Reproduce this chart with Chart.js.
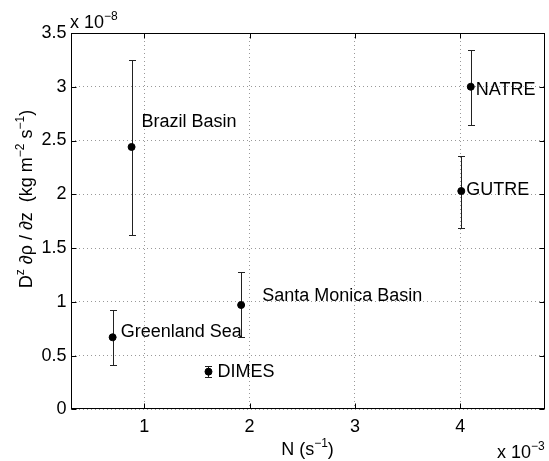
<!DOCTYPE html>
<html>
<head>
<meta charset="utf-8">
<script src="https://cdn.jsdelivr.net/npm/chart.js@4"></script>
<style>
  html, body { margin: 0; padding: 0; background: #fff; }
  canvas { display: block; }
</style>
</head>
<body>
<canvas id="chart" width="549" height="461"></canvas>
<script>
// data (N in units of 1e-3 s^-1, flux in units of 1e-8 kg m^-2 s^-1)
const sites = ['Brazil Basin', 'Greenland Sea', 'DIMES', 'Santa Monica Basin', 'NATRE', 'GUTRE'];
const nValues = [0.88, 0.70, 1.61, 1.92, 4.10, 4.01];
const fluxValues = [2.44, 0.67, 0.35, 0.97, 3.00, 2.03];
const fluxLow = [1.62, 0.41, 0.30, 0.67, 2.64, 1.69];
const fluxHigh = [3.25, 0.92, 0.40, 1.28, 3.34, 2.36];
const xTicks = [1, 2, 3, 4];
const yTicks = [0, 0.5, 1, 1.5, 2, 2.5, 3, 3.5];

// label offsets from each point, in pixels
const labelOffsets = [[10, -26], [8, -6], [9, -1], [21, -10], [5, 2], [5, -2]];

const FONT = '"Liberation Sans", Arial, Helvetica, sans-serif';

// draws text with superscript parts, e.g. [['D'], ['z', true]]
function drawRich(ctx, parts, x, y, align) {
    const base = 18, sup = 12;
    let total = 0;
    parts.forEach(p => {
        ctx.font = (p[1] ? sup : base) + 'px ' + FONT;
        total += ctx.measureText(p[0]).width;
    });
    let cx = align === 'center' ? x - total / 2 : x;
    ctx.textAlign = 'left';
    ctx.textBaseline = 'alphabetic';
    parts.forEach(p => {
        ctx.font = (p[1] ? sup : base) + 'px ' + FONT;
        ctx.fillText(p[0], cx, p[1] ? y - 8 : y);
        cx += ctx.measureText(p[0]).width;
    });
}

const extras = {
    id: 'extras',
    beforeDatasetsDraw(chart) {
        const ctx = chart.ctx;
        const xs = chart.scales.x, ys = chart.scales.y;
        ctx.save();
        ctx.strokeStyle = '#222';
        ctx.lineWidth = 1;
        nValues.forEach((n, i) => {
            const px = Math.round(xs.getPixelForValue(n)) + 0.5;
            const top = Math.round(ys.getPixelForValue(fluxHigh[i])) + 0.5;
            const bot = Math.round(ys.getPixelForValue(fluxLow[i])) + 0.5;
            ctx.beginPath();
            ctx.moveTo(px, top); ctx.lineTo(px, bot);
            ctx.moveTo(px - 3.5, top); ctx.lineTo(px + 3.5, top);
            ctx.moveTo(px - 3.5, bot); ctx.lineTo(px + 3.5, bot);
            ctx.stroke();
        });
        ctx.restore();
    },
    afterDatasetsDraw(chart) {
        const ctx = chart.ctx;
        const xs = chart.scales.x, ys = chart.scales.y;
        const a = chart.chartArea;
        ctx.save();
        ctx.fillStyle = '#000';
        ctx.font = '18px ' + FONT;
        ctx.textAlign = 'left';
        ctx.textBaseline = 'middle';
        sites.forEach((s, i) => {
            const px = xs.getPixelForValue(nValues[i]) + labelOffsets[i][0];
            const py = ys.getPixelForValue(fluxValues[i]) + labelOffsets[i][1];
            ctx.fillText(s, px, py + 1);
        });

        // box and inward ticks
        ctx.strokeStyle = '#000';
        ctx.lineWidth = 1;
        const L = Math.round(a.left) + 0.5, R = Math.round(a.right) - 0.5;
        const T = Math.round(a.top) + 0.5, B = Math.round(a.bottom) - 0.5;
        ctx.strokeRect(L, T, R - L, B - T);
        ctx.beginPath();
        xTicks.forEach(v => {
            const px = Math.round(xs.getPixelForValue(v)) + 0.5;
            ctx.moveTo(px, B); ctx.lineTo(px, B - 5);
            ctx.moveTo(px, T); ctx.lineTo(px, T + 5);
        });
        yTicks.forEach(v => {
            const py = Math.round(ys.getPixelForValue(v)) + 0.5;
            ctx.moveTo(L, py); ctx.lineTo(L + 5, py);
            ctx.moveTo(R, py); ctx.lineTo(R - 5, py);
        });
        ctx.stroke();

        // axis titles and exponents
        drawRich(ctx, [['N (s'], ['\u22121', true], [')']], (a.left + a.right) / 2, 455, 'center');
        drawRich(ctx, [['x 10'], ['\u22123', true]], 497, 458, 'left');
        drawRich(ctx, [['x 10'], ['\u22128', true]], 70, 28, 'left');
        ctx.translate(32, 199);
        ctx.rotate(-Math.PI / 2);
        drawRich(ctx, [['D'], ['z', true], [' \u2202\u03c1 / \u2202z  (kg m'], ['\u22122', true], [' s'], ['\u22121', true], [')']], 0, 0, 'center');
        ctx.restore();
    }
};

const points = nValues.map((n, i) => ({ x: n, y: fluxValues[i] }));

new Chart(document.getElementById('chart').getContext('2d'), {
    type: 'scatter',
    data: {
        datasets: [{
            data: points,
            backgroundColor: '#000',
            borderColor: '#000',
            pointRadius: 3.5,
            pointHoverRadius: 3.5
        }]
    },
    options: {
        responsive: false,
        animation: false,
        events: [],
        layout: { padding: { top: 33, right: 1.5, left: 0, bottom: 0 } },
        plugins: { legend: { display: false }, tooltip: { enabled: false } },
        scales: {
            x: {
                type: 'linear',
                min: 0.3,
                max: 4.8,
                afterBuildTicks: s => { s.ticks = xTicks.map(v => ({ value: v })); },
                afterFit: s => { s.height = 51.7; },
                grid: { color: 'rgba(0,0,0,0.4)', drawTicks: false },
                border: { display: false, dash: [1, 3] },
                ticks: { color: '#000', font: { family: FONT, size: 18 }, padding: 7, maxRotation: 0,
                         callback: v => String(v) }
            },
            y: {
                type: 'linear',
                min: 0,
                max: 3.5,
                afterBuildTicks: s => { s.ticks = yTicks.map(v => ({ value: v })); },
                afterFit: s => { s.width = 70.5; },
                grid: { color: 'rgba(0,0,0,0.4)', drawTicks: false },
                border: { display: false, dash: [1, 3] },
                ticks: { color: '#000', font: { family: FONT, size: 18 }, padding: 4,
                         callback: v => String(v) }
            }
        }
    },
    plugins: [extras]
});
</script>
</body>
</html>
